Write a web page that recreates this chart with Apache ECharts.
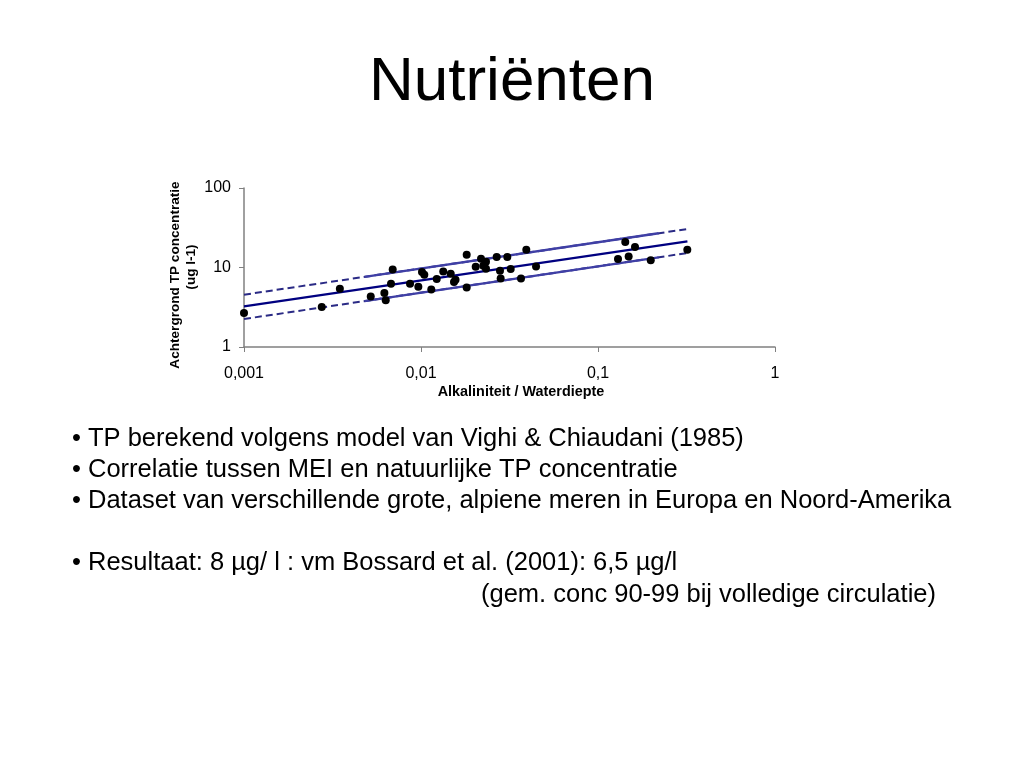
<!DOCTYPE html>
<html>
<head>
<meta charset="utf-8">
<script src="https://cdn.jsdelivr.net/npm/echarts@6/dist/echarts.min.js"></script>
<style>
html,body{margin:0;padding:0;background:#fff;}
#c{width:1024px;height:768px;}
</style>
</head>
<body>
<div id="c"></div>
<script>
// Data
const alkX = [0.001,0.00275,0.00348,0.0052,0.00621,0.00632,0.00677,0.00692,0.00867,0.00966,0.01013,0.01044,0.01143,0.01227,0.01336,0.01472,0.01536,0.01567,0.01812,0.01812,0.02037,0.02183,0.02249,0.02329,0.02329,0.02677,0.02794,0.02819,0.03073,0.03212,0.03672,0.03935,0.04466,0.1297,0.1426,0.149,0.1618,0.1986,0.3196];
const tpY  = [2.68,3.18,5.41,4.33,4.78,3.86,6.25,9.46,6.25,5.73,8.78,8.12,5.30,7.17,8.93,8.36,6.57,7.02,14.5,5.62,10.2,12.9,10.5,11.8,9.66,13.6,9.12,7.29,13.6,9.57,7.29,16.7,10.3,12.8,20.9,13.8,18.1,12.3,16.7];
const fitX = [0.001, 0.32];
const fitY = [3.24, 21.3];
const upperY = [4.55, 30.5];
const lowerY = [2.25, 15.2];
const xTicks = ['0,001','0,01','0,1','1'];
const yTicks = ['1','10','100'];
const bullets = [
  '• TP berekend volgens model van Vighi & Chiaudani (1985)',
  '• Correlatie tussen MEI en natuurlijke TP concentratie',
  '• Dataset van verschillende grote, alpiene meren in Europa en Noord-Amerika',
  '',
  '• Resultaat: 8 µg/ l : vm Bossard et al. (2001): 6,5 µg/l'
];
const bulletTail = '(gem. conc 90-99 bij volledige circulatie)';

function pairs(xs, ys){ return xs.map((x,i)=>[x, ys[i]]); }
function logInterp(xs, ys, x){
  const t = (Math.log10(x)-Math.log10(xs[0]))/(Math.log10(xs[1])-Math.log10(xs[0]));
  return Math.pow(10, Math.log10(ys[0]) + t*(Math.log10(ys[1])-Math.log10(ys[0])));
}
const solidFrom = 0.0048, solidTo = 0.22;
function bandSolid(ys){ return [[solidFrom, logInterp(fitX, ys, solidFrom)], [solidTo, logInterp(fitX, ys, solidTo)]]; }

const fmtX = v => { const e = Math.round(Math.log10(v)); return xTicks[e+3] !== undefined ? xTicks[e+3] : String(v).replace('.', ','); };
const fmtY = v => { const e = Math.round(Math.log10(v)); return yTicks[e] !== undefined ? yTicks[e] : String(v); };

const font = '"Liberation Sans", Arial, sans-serif';
const chart = echarts.init(document.getElementById('c'));
const graphics = [
  { type:'text', left:'center', top:52, style:{ text:'Nutriënten', font:'62px '+font, fill:'#000' } },
  { type:'text', x:175, y:275, rotation:Math.PI/2, style:{ text:'Achtergrond TP concentratie', font:'bold 13.6px '+font, fill:'#000', textAlign:'center', textVerticalAlign:'middle' } },
  { type:'text', x:191, y:267, rotation:Math.PI/2, style:{ text:'(ug l-1)', font:'bold 13.6px '+font, fill:'#000', textAlign:'center', textVerticalAlign:'middle' } },
  { type:'text', x:521, y:392, style:{ text:'Alkaliniteit / Waterdiepte', font:'bold 14.4px '+font, fill:'#000', textAlign:'center', textVerticalAlign:'middle' } }
];
bullets.forEach((t,i)=>{
  if (t) graphics.push({ type:'text', x:72, y:452 + i*31, style:{ text:t, font:'25.5px '+font, fill:'#000', textVerticalAlign:'bottom' } });
});
graphics.push({ type:'text', x:481, y:452 + 5*31 + 1, style:{ text:bulletTail, font:'25.5px '+font, fill:'#000', textVerticalAlign:'bottom' } });

chart.setOption({
  animation:false,
  backgroundColor:'#fff',
  grid:{ left:244, right:249, top:188, bottom:421, containLabel:false },
  xAxis:{ type:'log', logBase:10, min:0.001, max:1,
    axisLine:{ show:true, lineStyle:{ color:'#808080', width:1.5 } },
    axisTick:{ show:true, inside:false, length:5, lineStyle:{ color:'#808080' } },
    minorTick:{ show:false },
    splitLine:{ show:false },
    axisLabel:{ formatter:fmtX, color:'#000', fontSize:16, fontFamily:font, margin:19 } },
  yAxis:{ type:'log', logBase:10, min:1, max:100,
    axisLine:{ show:true, lineStyle:{ color:'#808080', width:1.5 } },
    axisTick:{ show:true, inside:false, length:5, lineStyle:{ color:'#808080' } },
    splitLine:{ show:false },
    axisLabel:{ formatter:fmtY, color:'#000', fontSize:16, fontFamily:font, margin:13 } },
  graphic: graphics,
  series:[
    { type:'line', data:pairs(fitX, upperY), showSymbol:false, lineStyle:{ color:'#2a2a85', width:2, type:[7,4] }, z:2 },
    { type:'line', data:pairs(fitX, lowerY), showSymbol:false, lineStyle:{ color:'#2a2a85', width:2, type:[7,4] }, z:2 },
    { type:'line', data:bandSolid(upperY), showSymbol:false, lineStyle:{ color:'#3f3fa5', width:2.4 }, z:3 },
    { type:'line', data:bandSolid(lowerY), showSymbol:false, lineStyle:{ color:'#3f3fa5', width:2.4 }, z:3 },
    { type:'line', data:pairs(fitX, fitY), showSymbol:false, lineStyle:{ color:'#000080', width:2.2 }, z:4 },
    { type:'scatter', data:pairs(alkX, tpY), symbol:'circle', symbolSize:8, itemStyle:{ color:'#000', opacity:1 }, z:5 }
  ]
});
</script>
</body>
</html>
